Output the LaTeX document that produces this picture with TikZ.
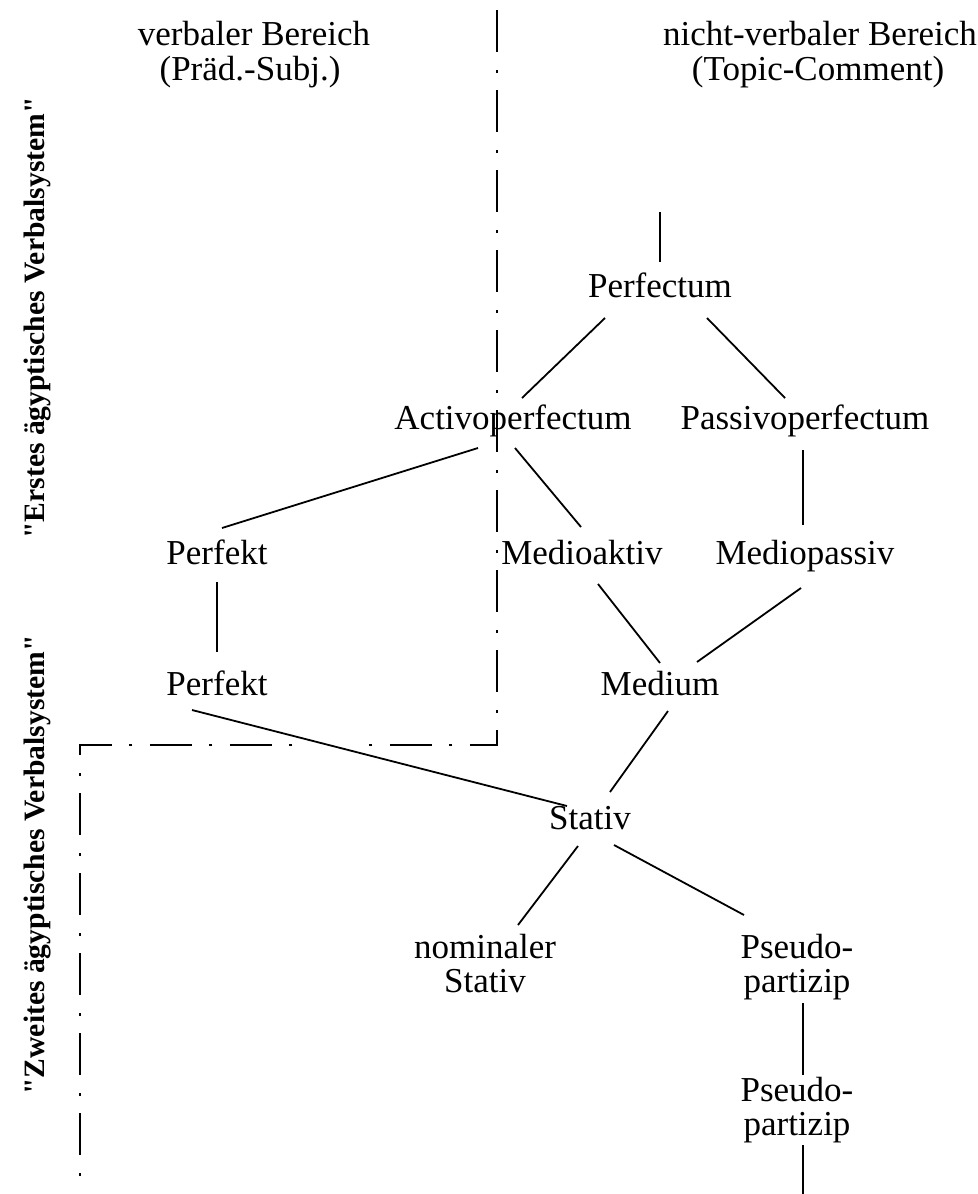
\documentclass[tikz,border=0pt]{standalone}
\usepackage{fontspec}
\setmainfont{Liberation Serif}[Ligatures=TeXOff]
\usetikzlibrary{calc}
\begin{document}
\begin{tikzpicture}[x=0.5pt,y=-0.5pt,
  lbl/.style={inner sep=0pt, font=\fontsize{17.5}{17}\selectfont, align=center},
  one/.style={lbl, text height=0.7em, text depth=0pt},
  side/.style={inner sep=0pt, font=\fontsize{14.8}{16}\selectfont\bfseries, rotate=90},
  conn/.style={line width=0.9pt},
  frame/.style={line width=1.3pt, dash pattern=on 21pt off 9pt on 1.5pt off 8.5pt}]
\useasboundingbox (0,0) rectangle (978,1194);
% side labels
\node[side] (erst) at (37,318) {"Erstes ägyptisches Verbalsystem"};
\node[side] (zweit) at (37,865) {"Zweites ägyptisches Verbalsystem"};
% headers
\node[one] (vb) at (254,38) {verbaler Bereich};
\node[one] (ps) at (250,73) {(Präd.-Subj.)};
\node[one] (nvb) at (820,38) {nicht-verbaler Bereich};
\node[one] (tc) at (818,73) {(Topic-Comment)};
% frame
\coordinate (ftop) at (497,10);
\coordinate (fcorner) at (497,745);
\coordinate (fgapr) at (354,745);
\coordinate (fgapl) at (310,745);
\coordinate (fleft) at (80,745);
\coordinate (fbottom) at (80,1190);
\draw[frame] (ftop) -- (fcorner) -- (fgapr);
\draw[frame, dash phase=21pt] (fgapl) -- (fleft) -- (fbottom);
% nodes
\node[one] (perfectum) at (660,290) {Perfectum};
\node[one] (activo) at (513,422) {Activoperfectum};
\node[one] (passivo) at (805,422) {Passivoperfectum};
\node[one] (perf1) at (217,557) {Perfekt};
\node[one] (medioakt) at (582,557) {Medioaktiv};
\node[one] (mediopass) at (805,557) {Mediopassiv};
\node[one] (perf2) at (217,688) {Perfekt};
\node[one] (medium) at (660,688) {Medium};
\node[one] (stativ) at (590,822) {Stativ};
\node[lbl] (nom) at (485,967) {nominaler\\Stativ\vphantom{p}};
\node[lbl] (ps1) at (797,967) {Pseudo-\\partizip};
\node[lbl] (ps2) at (797,1110) {Pseudo-\\partizip};
\coordinate (top) at (660,212);
\coordinate (bottom) at (803,1194);
% connectors
\draw[conn] (top) -- ($(perfectum)+(0,-28)$);
\draw[conn] ($(perfectum)+(-55,28)$) -- ($(activo)+(9,-24)$);
\draw[conn] ($(perfectum)+(47,28)$) -- ($(passivo)+(-20,-24)$);
\draw[conn] ($(activo)+(-35,26)$) -- ($(perf1)+(5,-29)$);
\draw[conn] ($(activo)+(2,26)$) -- ($(medioakt)+(-1,-30)$);
\draw[conn] ($(passivo)+(-2,28)$) -- ($(mediopass)+(-2,-32)$);
\draw[conn] ($(perf1)+(0,25)$) -- ($(perf2)+(0,-36)$);
\draw[conn] ($(medioakt)+(16,27)$) -- ($(medium)+(0,-25)$);
\draw[conn] ($(mediopass)+(-4,31)$) -- ($(medium)+(37,-26)$);
\draw[conn] ($(medium)+(8,23)$) -- ($(stativ)+(20,-30)$);
\draw[conn] ($(perf2)+(-25,22)$) -- ($(stativ)+(-23,-16)$);
\draw[conn] ($(stativ)+(-12,24)$) -- ($(nom)+(33,-42)$);
\draw[conn] ($(stativ)+(24,23)$) -- ($(ps1)+(-53,-52)$);
\draw[conn] ($(ps1)+(6,36)$) -- ($(ps2)+(6,-35)$);
\draw[conn] ($(ps2)+(6,35)$) -- (bottom);
\end{tikzpicture}
\end{document}
